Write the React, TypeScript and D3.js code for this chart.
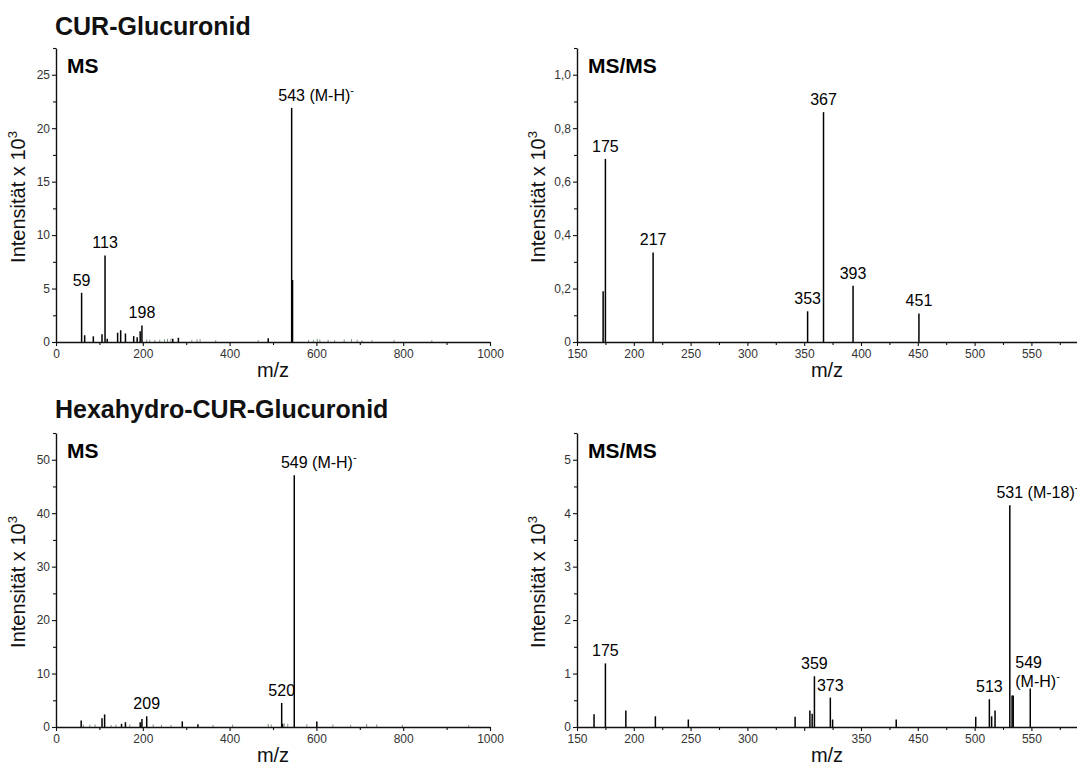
import React, { useEffect, useRef } from "react";
import * as d3 from "d3";

const FONT = "'Liberation Sans', Arial, Helvetica, sans-serif";

// peaks: [m/z, intensity x 10^3]
const curMsPeaks = [
  [59, 4.6], [66, 0.63], [86, 0.53], [106, 0.72], [113, 8.1], [118, 0.3],
  [142, 0.87], [149, 1.1], [160, 0.8], [179, 0.55], [187, 0.45], [194, 1.0],
  [198, 1.55], [269, 0.3], [282, 0.4], [489, 0.34], [543, 21.9], [545, 5.8],
];
const curMsNoise = [
  [209, 0.15], [216, 0.12], [228, 0.1], [239, 0.12], [250, 0.15], [257, 0.2],
  [265, 0.25], [313, 0.1], [325, 0.15], [332, 0.18], [368, 0.08], [466, 0.08],
  [582, 0.1], [593, 0.1], [602, 0.2], [608, 0.15], [627, 0.12], [642, 0.08],
  [664, 0.15], [681, 0.18], [694, 0.12], [705, 0.08], [728, 0.08], [779, 0.1],
  [866, 0.07],
];
const curMsmsPeaks = [
  [173, 0.19], [175, 0.685], [217, 0.335], [353, 0.115], [367, 0.86],
  [393, 0.21], [451, 0.107],
];
const hexMsPeaks = [
  [58, 1.2], [106, 1.65], [112, 2.35], [151, 0.6], [160, 0.9], [194, 0.9],
  [198, 1.5], [209, 2.0], [291, 1.05], [327, 0.5], [520, 4.5], [522, 0.6],
  [549, 47.1], [601, 1.05],
];
const hexMsNoise = [
  [63, 0.3], [78, 0.25], [90, 0.3], [127, 0.2], [138, 0.25], [170, 0.3],
  [224, 0.3], [243, 0.2], [265, 0.2], [362, 0.2], [407, 0.25], [489, 0.4],
  [496, 0.3], [526, 0.5], [534, 0.4], [578, 0.35], [638, 0.3], [679, 0.25],
  [716, 0.4], [739, 0.3], [798, 0.2], [951, 0.2],
];
const hexMsmsPeaks = [
  [165, 0.24], [175, 1.19], [193, 0.31], [219, 0.2], [248, 0.14], [342, 0.19],
  [355, 0.31], [357, 0.25], [359, 0.95], [373, 0.55], [375, 0.14], [431, 0.14],
  [501, 0.19], [513, 0.52], [515, 0.2], [518, 0.31], [531, 4.15], [533, 0.59],
  [534, 0.59], [549, 0.72],
];

// peak annotations
const curMsLabels = [
  { mz: 59, text: "59" }, { mz: 113, text: "113" }, { mz: 198, text: "198" },
  { mz: 543, text: "543", ion: "(M-H)", charge: "-" },
];
const curMsmsLabels = [
  { mz: 175, text: "175" }, { mz: 217, text: "217" }, { mz: 353, text: "353" },
  { mz: 367, text: "367" }, { mz: 393, text: "393" }, { mz: 451, text: "451" },
];
const hexMsLabels = [
  { mz: 209, text: "209" }, { mz: 520, text: "520" },
  { mz: 549, text: "549", ion: "(M-H)", charge: "-" },
];
const hexMsmsLabels = [
  { mz: 175, text: "175" }, { mz: 359, text: "359" }, { mz: 373, text: "373" },
  { mz: 513, text: "513" }, { mz: 531, text: "531", ion: "(M-18)", charge: "-" },
  { mz: 549, text: "549", ion: "(M-H)", charge: "-", stacked: true },
];

// axis ticks
const msXTicks = [0, 200, 400, 600, 800, 1000];
const msXMinor = [100, 300, 500, 700, 900];
const msmsXTicks = [150, 200, 250, 300, 350, 400, 450, 500, 550];
const msmsXMinor = [175, 225, 275, 325, 375, 425, 475, 525, 575];
const curMsmsXLabels = ["150", "200", "250", "300", "350", "400", "450", "500", "550"];
const hexMsmsXLabels = ["150", "200", "250", "300", "", "350", "450", "500", "550"];

const curMsYTicks = [0, 5, 10, 15, 20, 25];
const curMsYMinor = [2.5, 7.5, 12.5, 17.5, 22.5, 27.5];
const curMsmsYTicks = [0, 0.2, 0.4, 0.6, 0.8, 1.0];
const curMsmsYLabels = ["0", "0,2", "0,4", "0,6", "0,8", "1,0"];
const curMsmsYMinor = [0.1, 0.3, 0.5, 0.7, 0.9, 1.1];
const hexMsYTicks = [0, 10, 20, 30, 40, 50];
const hexMsYMinor = [5, 15, 25, 35, 45, 55];
const hexMsmsYTicks = [0, 1, 2, 3, 4, 5];
const hexMsmsYMinor = [0.5, 1.5, 2.5, 3.5, 4.5, 5.5];

const titles = ["CUR-Glucuronid", "Hexahydro-CUR-Glucuronid"];

// layout
const LEFT_X = [56, 490];
const RIGHT_X = [577, 577 + 450 * 1.136];
const ROWS = [
  { base: 342, top: 48, title: 35 },
  { base: 727, top: 433, title: 418 },
];

function drawPanel(svg, p) {
  const x = d3.scaleLinear().domain(p.xDomain).range(p.xRange);
  const y = d3.scaleLinear().domain(p.yDomain).range([p.row.base, p.row.top]);
  const g = svg.append("g");

  g.selectAll("line.noise")
    .data(p.noise || [])
    .join("line")
    .attr("x1", (d) => x(d[0]))
    .attr("x2", (d) => x(d[0]))
    .attr("y1", y(0))
    .attr("y2", (d) => y(d[1]) - 1)
    .attr("stroke", "#7f967f")
    .attr("stroke-width", 1);

  g.selectAll("line.peak")
    .data(p.peaks)
    .join("line")
    .attr("x1", (d) => x(d[0]))
    .attr("x2", (d) => x(d[0]))
    .attr("y1", y(0))
    .attr("y2", (d) => y(d[1]))
    .attr("stroke", "#000")
    .attr("stroke-width", 1.5);

  // axes
  const styleAxis = (a) => {
    a.attr("font-family", FONT).attr("font-size", 12).attr("color", "#111");
    a.select(".domain").attr("stroke-width", 1.4);
    a.selectAll(".tick line").attr("stroke-width", 1.1);
    a.selectAll("text").attr("fill", "#333");
  };
  const xa = g.append("g").attr("transform", `translate(0,${y(0)})`);
  xa.call(
    d3.axisBottom(x).tickValues(p.xMinor).tickFormat(() => "").tickSize(3).tickSizeOuter(0)
  );
  xa.select(".domain").remove();
  const xb = g.append("g").attr("transform", `translate(0,${y(0)})`);
  xb.call(
    d3.axisBottom(x)
      .tickValues(p.xTicks)
      .tickFormat((d, i) => p.xLabels[i])
      .tickSize(4)
      .tickPadding(3)
      .tickSizeOuter(0)
  );
  styleAxis(xa);
  styleAxis(xb);

  const ya = g.append("g").attr("transform", `translate(${p.xRange[0]},0)`);
  ya.call(d3.axisLeft(y).tickValues(p.yMinor).tickFormat(() => "").tickSize(3).tickSizeOuter(0));
  ya.select(".domain").remove();
  const yb = g.append("g").attr("transform", `translate(${p.xRange[0]},0)`);
  yb.call(
    d3.axisLeft(y)
      .tickValues(p.yTicks)
      .tickFormat((d, i) => (p.yLabels ? p.yLabels[i] : String(d)))
      .tickSize(4)
      .tickPadding(2)
      .tickSizeOuter(0)
  );
  styleAxis(ya);
  styleAxis(yb);

  // axis titles
  const yl = g
    .append("text")
    .attr("transform", `translate(${p.yTitleX},${(p.row.base + p.row.top) / 2 + 2}) rotate(-90)`)
    .attr("text-anchor", "middle")
    .attr("font-family", FONT)
    .attr("font-size", 20)
    .attr("fill", "#111");
  yl.append("tspan").text("Intensität x 10");
  yl.append("tspan").attr("dy", -8).attr("font-size", 13).text("3");

  g.append("text")
    .attr("x", p.xTitleX)
    .attr("y", p.row.base + 35)
    .attr("text-anchor", "middle")
    .attr("font-family", FONT)
    .attr("font-size", 20)
    .attr("fill", "#111")
    .text("m/z");

  // panel tag
  g.append("text")
    .attr("x", p.xRange[0] + 11)
    .attr("y", p.row.top + 25)
    .attr("font-family", FONT)
    .attr("font-weight", "bold")
    .attr("font-size", 21)
    .attr("fill", "#000")
    .text(p.tag);

  // peak labels
  p.labels.forEach((l) => {
    const pk = p.peaks.find((d) => d[0] === l.mz);
    const px = x(l.mz);
    const top = y(pk[1]);
    const t = g
      .append("text")
      .attr("font-family", FONT)
      .attr("font-size", 16)
      .attr("fill", "#000");
    if (l.stacked) {
      t.attr("x", px - 15).attr("y", top - 21).text(l.text);
      const t2 = g
        .append("text")
        .attr("x", px - 15)
        .attr("y", top - 2)
        .attr("font-family", FONT)
        .attr("font-size", 16)
        .attr("fill", "#000");
      t2.append("tspan").text(l.ion);
      t2.append("tspan").attr("dy", -7).attr("font-size", 11).text(l.charge);
    } else if (l.ion) {
      const w = l.text.length * 0.556 * 16;
      t.attr("x", px - w / 2).attr("y", top - 7);
      t.append("tspan").text(`${l.text} ${l.ion}`);
      t.append("tspan").attr("dy", -7).attr("font-size", 11).text(l.charge);
    } else {
      t.attr("x", px).attr("y", top - 7).attr("text-anchor", "middle").text(l.text);
    }
  });
}

export default function App() {
  const ref = useRef(null);

  useEffect(() => {
    const svg = d3.select(ref.current);
    svg.selectAll("*").remove();

    ROWS.forEach((row, i) => {
      svg
        .append("text")
        .attr("x", 55)
        .attr("y", row.title)
        .attr("font-family", FONT)
        .attr("font-weight", "bold")
        .attr("font-size", 25)
        .attr("fill", "#111")
        .text(titles[i]);
    });

    drawPanel(svg, {
      row: ROWS[0], tag: "MS",
      xDomain: [0, 1000], xRange: LEFT_X, yDomain: [0, 27.5],
      peaks: curMsPeaks, noise: curMsNoise, labels: curMsLabels,
      xTicks: msXTicks, xLabels: msXTicks.map(String), xMinor: msXMinor,
      yTicks: curMsYTicks, yMinor: curMsYMinor,
      yTitleX: 25, xTitleX: (LEFT_X[0] + LEFT_X[1]) / 2,
    });
    drawPanel(svg, {
      row: ROWS[0], tag: "MS/MS",
      xDomain: [150, 600], xRange: RIGHT_X, yDomain: [0, 1.1],
      peaks: curMsmsPeaks, labels: curMsmsLabels,
      xTicks: msmsXTicks, xLabels: curMsmsXLabels, xMinor: msmsXMinor,
      yTicks: curMsmsYTicks, yLabels: curMsmsYLabels, yMinor: curMsmsYMinor,
      yTitleX: 545, xTitleX: 827,
    });
    drawPanel(svg, {
      row: ROWS[1], tag: "MS",
      xDomain: [0, 1000], xRange: LEFT_X, yDomain: [0, 55],
      peaks: hexMsPeaks, noise: hexMsNoise, labels: hexMsLabels,
      xTicks: msXTicks, xLabels: msXTicks.map(String), xMinor: msXMinor,
      yTicks: hexMsYTicks, yMinor: hexMsYMinor,
      yTitleX: 25, xTitleX: (LEFT_X[0] + LEFT_X[1]) / 2,
    });
    drawPanel(svg, {
      row: ROWS[1], tag: "MS/MS",
      xDomain: [150, 600], xRange: RIGHT_X, yDomain: [0, 5.5],
      peaks: hexMsmsPeaks, labels: hexMsmsLabels,
      xTicks: msmsXTicks, xLabels: hexMsmsXLabels, xMinor: msmsXMinor,
      yTicks: hexMsmsYTicks, yMinor: hexMsmsYMinor,
      yTitleX: 545, xTitleX: 827,
    });
  }, []);

  return (
    <svg
      ref={ref}
      width={1077}
      height={765}
      style={{ position: "absolute", left: 0, top: 0, background: "#fff" }}
    />
  );
}
